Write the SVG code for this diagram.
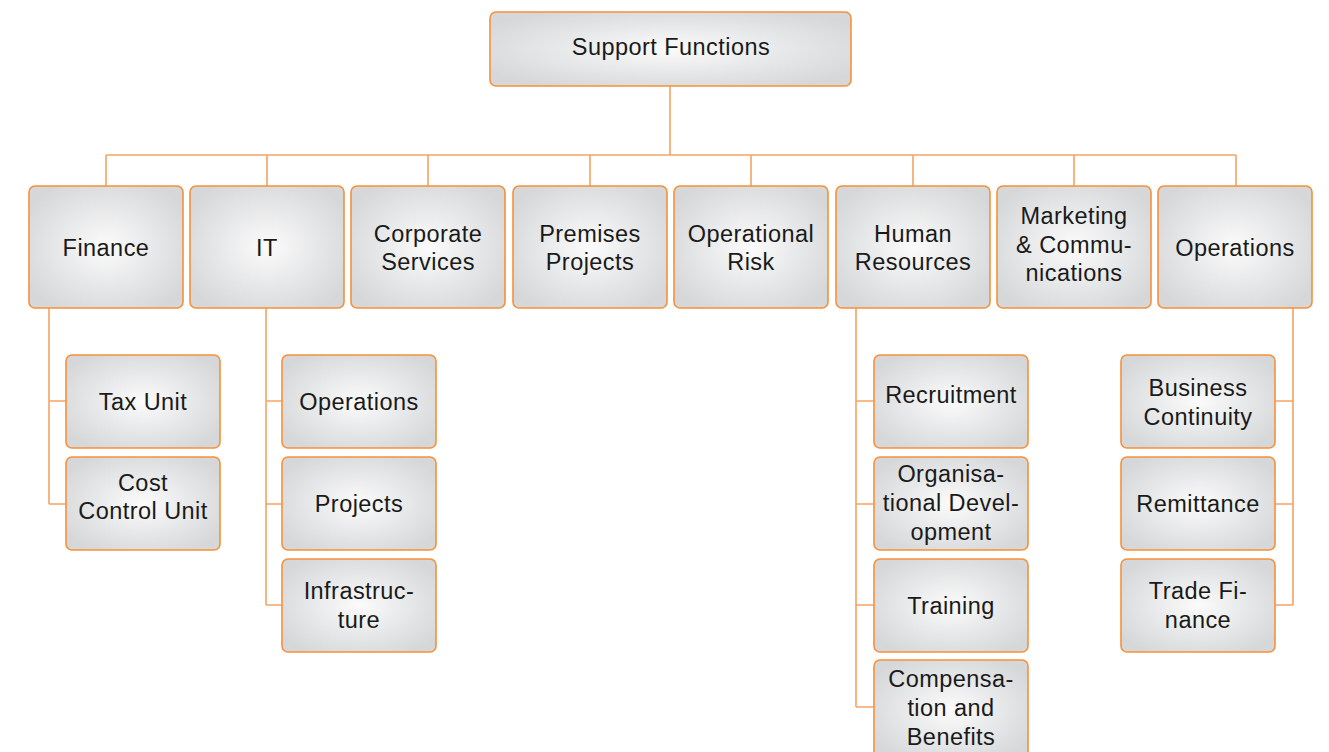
<svg xmlns="http://www.w3.org/2000/svg" width="1329" height="752" viewBox="0 0 1329 752">
  <defs>
    <radialGradient id="boxFill" cx="0.5" cy="0.5" r="0.6">
      <stop offset="0" stop-color="#fbfbfb"/>
      <stop offset="0.55" stop-color="#e6e7e8"/>
      <stop offset="1" stop-color="#d6d7d9"/>
    </radialGradient>
    <style>
      .box { fill: url(#boxFill); stroke: #f5913a; stroke-width: 1.6; }
      .lbl { font-family: "Liberation Sans", Arial, sans-serif; font-size: 23.5px; letter-spacing: 0.45px; fill: #1a1a1a; text-anchor: middle; }
      .wire { fill: none; stroke: #f7a262; stroke-width: 1.6; }
    </style>
  </defs>
  <rect width="1329" height="752" fill="#ffffff"/>

  <g id="connectors">
    <path class="wire" d="M670,86 V155 M106,155 H1236 M106,155 V186 M267,155 V186 M428,155 V186 M590,155 V186 M751,155 V186 M913,155 V186 M1074,155 V186 M1236,155 V186"/>
    <path class="wire" d="M49,308 V504 M49,401 H66 M49,504 H66"/>
    <path class="wire" d="M266,308 V605 M266,401 H282 M266,504 H282 M266,605 H282"/>
    <path class="wire" d="M856,308 V707 M856,401 H874 M856,504 H874 M856,605 H874 M856,707 H874"/>
    <path class="wire" d="M1293,308 V605 M1275,401 H1293 M1275,504 H1293 M1275,605 H1293"/>
  </g>

  <g id="support-functions">
    <rect class="box" x="490" y="12" width="361" height="74" rx="6"/>
    <text class="lbl" x="671" y="55">Support Functions</text>
  </g>

  <g id="finance">
    <rect class="box" x="29" y="186" width="154" height="122" rx="6"/>
    <text class="lbl" x="106" y="256">Finance</text>
  </g>
  <g id="it">
    <rect class="box" x="190" y="186" width="154" height="122" rx="6"/>
    <text class="lbl" x="267" y="256">IT</text>
  </g>
  <g id="corporate-services">
    <rect class="box" x="351" y="186" width="154" height="122" rx="6"/>
    <text class="lbl" x="428" y="242">Corporate</text>
    <text class="lbl" x="428" y="270">Services</text>
  </g>
  <g id="premises-projects">
    <rect class="box" x="513" y="186" width="154" height="122" rx="6"/>
    <text class="lbl" x="590" y="242">Premises</text>
    <text class="lbl" x="590" y="270">Projects</text>
  </g>
  <g id="operational-risk">
    <rect class="box" x="674" y="186" width="154" height="122" rx="6"/>
    <text class="lbl" x="751" y="242">Operational</text>
    <text class="lbl" x="751" y="270">Risk</text>
  </g>
  <g id="human-resources">
    <rect class="box" x="836" y="186" width="154" height="122" rx="6"/>
    <text class="lbl" x="913" y="242">Human</text>
    <text class="lbl" x="913" y="270">Resources</text>
  </g>
  <g id="marketing">
    <rect class="box" x="997" y="186" width="154" height="122" rx="6"/>
    <text class="lbl" x="1074" y="224">Marketing</text>
    <text class="lbl" x="1074" y="253">&amp; Commu-</text>
    <text class="lbl" x="1074" y="281">nications</text>
  </g>
  <g id="operations">
    <rect class="box" x="1158" y="186" width="154" height="122" rx="6"/>
    <text class="lbl" x="1235" y="256">Operations</text>
  </g>

  <g id="tax-unit">
    <rect class="box" x="66" y="355" width="154" height="93" rx="6"/>
    <text class="lbl" x="143" y="410">Tax Unit</text>
  </g>
  <g id="cost-control-unit">
    <rect class="box" x="66" y="457" width="154" height="93" rx="6"/>
    <text class="lbl" x="143" y="491">Cost</text>
    <text class="lbl" x="143" y="519">Control Unit</text>
  </g>

  <g id="it-operations">
    <rect class="box" x="282" y="355" width="154" height="93" rx="6"/>
    <text class="lbl" x="359" y="410">Operations</text>
  </g>
  <g id="it-projects">
    <rect class="box" x="282" y="457" width="154" height="93" rx="6"/>
    <text class="lbl" x="359" y="512">Projects</text>
  </g>
  <g id="infrastructure">
    <rect class="box" x="282" y="559" width="154" height="93" rx="6"/>
    <text class="lbl" x="359" y="599">Infrastruc-</text>
    <text class="lbl" x="359" y="628">ture</text>
  </g>

  <g id="recruitment">
    <rect class="box" x="874" y="355" width="154" height="93" rx="6"/>
    <text class="lbl" x="951" y="403">Recruitment</text>
  </g>
  <g id="organisational-development">
    <rect class="box" x="874" y="457" width="154" height="93" rx="6"/>
    <text class="lbl" x="951" y="482">Organisa-</text>
    <text class="lbl" x="951" y="511">tional Devel-</text>
    <text class="lbl" x="951" y="540">opment</text>
  </g>
  <g id="training">
    <rect class="box" x="874" y="559" width="154" height="93" rx="6"/>
    <text class="lbl" x="951" y="614">Training</text>
  </g>
  <g id="compensation">
    <rect class="box" x="874" y="660" width="154" height="100" rx="6"/>
    <text class="lbl" x="951" y="687">Compensa-</text>
    <text class="lbl" x="951" y="716">tion and</text>
    <text class="lbl" x="951" y="745">Benefits</text>
  </g>

  <g id="business-continuity">
    <rect class="box" x="1121" y="355" width="154" height="93" rx="6"/>
    <text class="lbl" x="1198" y="396">Business</text>
    <text class="lbl" x="1198" y="425">Continuity</text>
  </g>
  <g id="remittance">
    <rect class="box" x="1121" y="457" width="154" height="93" rx="6"/>
    <text class="lbl" x="1198" y="512">Remittance</text>
  </g>
  <g id="trade-finance">
    <rect class="box" x="1121" y="559" width="154" height="93" rx="6"/>
    <text class="lbl" x="1198" y="599">Trade Fi-</text>
    <text class="lbl" x="1198" y="628">nance</text>
  </g>
</svg>
